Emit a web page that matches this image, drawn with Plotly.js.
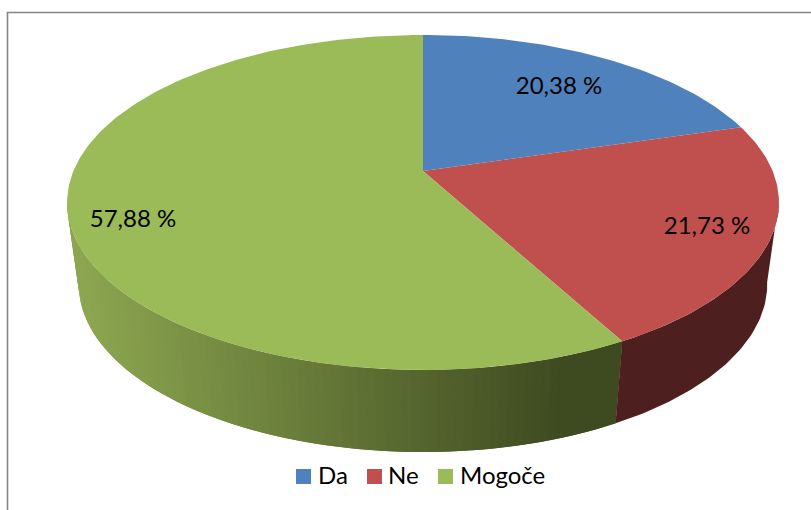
<!DOCTYPE html>
<html><head><meta charset="utf-8">
<script src="https://cdn.plot.ly/plotly-3.0.1.min.js"></script>
<style>html,body{margin:0;padding:0;background:#fff;overflow:hidden}#c{width:811px;height:510px}</style>
</head><body><div id="c"></div>
<script>
const categories = ["Da", "Ne", "Mogoče"];
const shares = [20.38, 21.73, 57.88];
const labels = ["20,38 %", "21,73 %", "57,88 %"];
const topColors = ["#4f81bd", "#c0504d", "#9bbb59"];
const redWall = "#4d1f1e";

// projection of the pie disc (perspective tilt) onto the pixel-ranged axes
const CX = 423, CY = 171, A = 349.6, B = 161.6, K = 0.188;
const WALL_DY = 82, WALL_SX = 0.967;
function project(t) {
  const u = Math.sin(t), v = -Math.cos(t), d = 1 - K * v;
  return [CX + A * u / d, CY + B * v / d];
}
function wallPoint(t) {
  const p = project(t);
  return [CX + (p[0] - CX) * WALL_SX, p[1] + WALL_DY];
}
const total = shares.reduce((a, b) => a + b, 0);
const bounds = [0];
shares.forEach(s => bounds.push(bounds[bounds.length - 1] + s / total * 2 * Math.PI));

const rad = d => d * Math.PI / 180;
const WALL_FROM = rad(100), WALL_TO = rad(260);

function arc(t0, t1, fn) {
  const n = Math.max(2, Math.ceil(Math.abs(t1 - t0) / rad(1)));
  const out = [];
  for (let i = 0; i <= n; i++) out.push(fn(t0 + (t1 - t0) * i / n));
  return out;
}
function poly(pts, color) {
  return {
    type: "scatter", mode: "lines", x: pts.map(p => p[0]), y: pts.map(p => p[1]),
    fill: "toself", fillcolor: color, showlegend: false, hoverinfo: "skip",
    line: {color: color, width: 0}
  };
}
function wallQuad(t0, t1, color) {
  const pts = arc(t0, t1, project).concat(arc(t1, t0, wallPoint));
  pts.push(pts[0]);
  return poly(pts, color);
}
function mix(x) {
  const f = Math.min(1, Math.max(0, (x - 78) / (565 - 78)));
  const a = [140, 166, 80], b = [62, 74, 32];
  const c = a.map((v, i) => Math.round(v + (b[i] - v) * f));
  return "rgb(" + c.join(",") + ")";
}

const traces = [];
// green wall: each strip overlaps the previous one so no seams show
const stripStep = rad(1.2);
for (let t = bounds[2]; t < WALL_TO; t += stripStep) {
  const t1 = Math.min(WALL_TO, t + stripStep);
  const t0 = Math.max(bounds[2], t - stripStep);
  traces.push(wallQuad(t1, t0, mix(project((t + t1) / 2)[0])));
}
traces.reverse();
traces.push(wallQuad(WALL_FROM, bounds[2], redWall));

// top faces
categories.forEach((c, i) => {
  const pts = [[CX, CY]].concat(arc(bounds[i], bounds[i + 1], project));
  pts.push([CX, CY]);
  traces.push(poly(pts, topColors[i]));
});

const FONT = "Lato, sans-serif";
// data labels
const labelX = [559, 707, 133], labelY = [88, 227.5, 220.5];
traces.push({
  type: "scatter", mode: "text", x: labelX, y: labelY, text: labels,
  textposition: "middle center", textfont: {family: FONT, size: 24, color: "#000"},
  showlegend: false, hoverinfo: "skip"
});

// legend row
const swatchX = [303.5, 374.5, 445.5], legendTextX = [318, 388, 460], legendY = 476.5, legendTextY = 478;
traces.push({
  type: "scatter", mode: "markers", x: swatchX, y: categories.map(() => legendY),
  marker: {symbol: "square", size: 15, color: topColors, line: {width: 0}},
  showlegend: false, hoverinfo: "skip"
});
traces.push({
  type: "scatter", mode: "text", x: legendTextX, y: categories.map(() => legendTextY), text: categories,
  textposition: "middle right", textfont: {family: FONT, size: 24, color: "#000"},
  showlegend: false, hoverinfo: "skip"
});

const layout = {
  width: 811, height: 510, margin: {l: 0, r: 0, t: 0, b: 0},
  paper_bgcolor: "#fff", plot_bgcolor: "#fff",
  xaxis: {range: [0, 811], visible: false, fixedrange: true},
  yaxis: {range: [510, 0], visible: false, fixedrange: true},
  shapes: [{type: "rect", xref: "x", yref: "y", x0: 7.5, y0: 12.5, x1: 840, y1: 540,
            line: {color: "#868686", width: 1.6}, fillcolor: "rgba(0,0,0,0)", layer: "below"}],
  showlegend: false
};
Plotly.newPlot("c", traces, layout, {displayModeBar: false, staticPlot: true});
</script></body></html>
